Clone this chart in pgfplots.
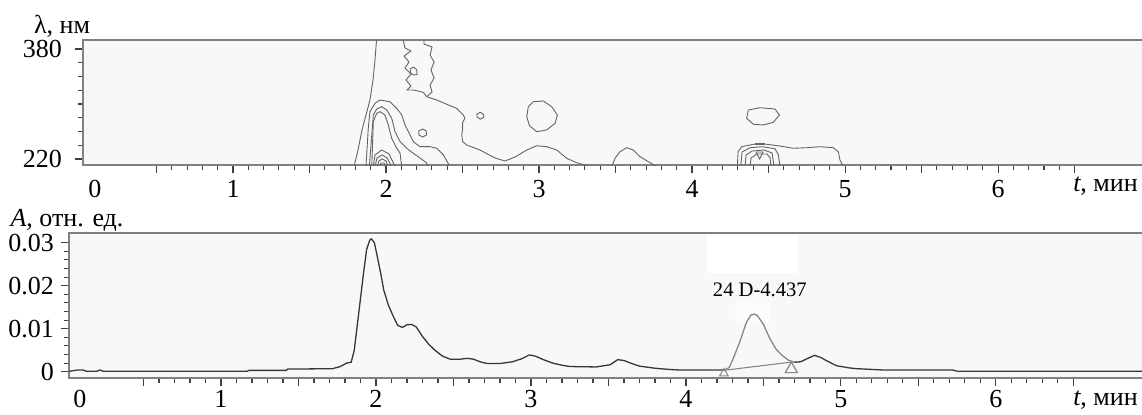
\documentclass[border=0pt]{standalone}
\usepackage{fontspec}
\setmainfont{Liberation Serif}
\usepackage{pgfplots}
\pgfplotsset{compat=1.18}
\definecolor{bgc}{RGB}{248,248,248}
\definecolor{framec}{RGB}{128,128,128}
\definecolor{curve}{RGB}{55,55,55}
\definecolor{cont}{RGB}{100,100,100}
\definecolor{pk}{RGB}{135,135,135}
\begin{document}
\begin{tikzpicture}
\useasboundingbox (0,0) rectangle (571pt,207pt);
\pgfplotsset{
  cl/.style={cont, line width=0.45pt, mark=none},
  every axis/.append style={
    scale only axis, clip=true,
    axis background/.style={fill=bgc},
    axis line style={framec, line width=0.7pt},
    tick style={black!75, line width=0.55pt},
    tick align=outside,
    major tick length=4pt, minor tick length=2.5pt,
    tick label style={font=\fontsize{13}{15}\selectfont},
    xtick={0.5,1,1.5,2,2.5,3,3.5,4,4.5,5,5.5,6,6.5},
    xticklabels={,1,,2,,3,,4,,5,,6,},
    minor x tick num=4,
    extra x tick style={tick style={draw=none}},
    xtick pos=bottom, ytick pos=left,
  }
}
% ---------- top: contour map ----------
\begin{axis}[at={(41.5pt,124.5pt)}, anchor=south west, width=533.5pt, height=62.5pt,
  xmin=0.0196, xmax=6.993, ymin=211.27, ymax=393.1,
  yticklabel style={xshift=-3pt},
  ytick={220,380}, yticklabels={220,380}, minor ytick={240,260,280,300,320,340,360},
  extra x ticks={0.098}, extra x tick labels={0}]
% outermost left line
\addplot[cl] coordinates {(1.939,396) (1.928,364.0) (1.915,334.9) (1.895,305.8) (1.869,284.0) (1.843,262.2) (1.817,233.1) (1.791,209)};
% long line from top going right
\addplot[cl] coordinates {(2.109,396) (2.124,381.5) (2.163,377.1) (2.118,369.8) (2.150,361.1) (2.124,352.4) (2.163,343.6) (2.131,334.9) (2.163,326.2) (2.137,320.4) (2.178,320.4) (2.244,317.0) (2.266,310.6) (2.331,305.8) (2.397,299.6) (2.462,293.7) (2.505,284.0) (2.516,279.2) (2.501,273.4) (2.501,264.7) (2.495,254.9) (2.501,245.2) (2.527,240.4) (2.614,233.1) (2.712,221.5) (2.778,217.1) (2.843,222.9) (2.920,233.1) (2.985,239.3) (3.050,237.9) (3.116,233.1) (3.181,221.0) (3.246,214.6) (3.333,209)};
% jagged right edge of the island
\addplot[cl] coordinates {(2.248,396) (2.248,387.3) (2.301,382.9) (2.288,371.3) (2.314,361.1) (2.294,349.5) (2.314,337.8) (2.288,327.6) (2.301,317.5) (2.266,310.6)};
% small loops
\addplot[cl] coordinates {(2.180,353.8) (2.200,350) (2.203,343) (2.180,342.2) (2.160,345) (2.158,351) (2.180,353.8)};
\addplot[cl] coordinates {(2.616,288.1) (2.637,285) (2.640,281) (2.616,277.9) (2.595,281) (2.594,285) (2.616,288.1)};
\addplot[cl] coordinates {(2.239,263.6) (2.262,261) (2.265,255) (2.239,252.0) (2.215,255) (2.214,261) (2.239,263.6)};
% main peak contours
\addplot[cl] coordinates {(1.869,209) (1.884,264.7) (1.895,288.8) (1.928,301.0) (1.961,305.8) (2.026,303.3) (2.070,293.7) (2.103,284.0) (2.124,269.5) (2.157,254.9) (2.178,245.2) (2.222,237.9) (2.288,237.9) (2.331,235.6) (2.375,225.8) (2.418,209)};
\addplot[cl] coordinates {(1.891,209) (1.907,254.9) (1.917,284.0) (1.939,292.7) (1.972,296.1) (2.005,291.3) (2.037,279.2) (2.059,259.7) (2.092,245.2) (2.135,235.6) (2.178,228.3) (2.222,221.5) (2.266,214.2) (2.275,209)};
\addplot[cl] coordinates {(1.907,209) (1.917,274.3) (1.939,286.5) (1.961,288.8) (1.993,284.0) (2.015,269.5) (2.037,250.1) (2.070,235.6) (2.092,228.3) (2.103,209)};
\addplot[cl] coordinates {(1.917,209) (1.928,225.8) (1.972,233.1) (2.020,227.3) (2.059,209)};
\addplot[cl] coordinates {(1.928,209) (1.941,221.5) (1.974,225.8) (2.007,221.5) (2.037,209)};
\addplot[cl] coordinates {(1.941,209) (1.954,217.1) (1.974,220) (2.000,217.1) (2.013,209)};
\addplot[cl] coordinates {(1.954,209) (1.967,214.2) (1.987,214.2) (2.000,209)};
% loop at t = 3
\addplot[cl] coordinates {(2.963,303.3) (3.028,304.4) (3.083,296.1) (3.120,284.0) (3.105,271.9) (3.050,262.2) (2.985,259.7) (2.937,268.5) (2.920,281.5) (2.930,296.1) (2.963,303.3)};
% bump at t = 3.55
\addplot[cl] coordinates {(3.475,209) (3.497,221.0) (3.529,230.6) (3.573,236.4) (3.616,233.1) (3.660,223.3) (3.714,216.1) (3.769,209)};
% loop at t = 4.45
\addplot[cl] coordinates {(4.368,291.3) (4.444,294.6) (4.542,292.7) (4.571,284.0) (4.531,273.4) (4.466,269.5) (4.401,270.5) (4.357,279.2) (4.368,291.3)};
% cluster 4.3-5.0
\addplot[cl] coordinates {(4.296,209) (4.301,230.6) (4.325,237.9) (4.401,241.4) (4.488,241.4) (4.575,238.9) (4.662,235.6) (4.749,236.4) (4.837,237.9) (4.924,236.4) (4.956,230.6) (4.967,218.5) (4.989,209)};
\addplot[cl] coordinates {(4.318,209) (4.327,230.2) (4.379,236.4) (4.458,237.9) (4.542,235.0) (4.564,226.2) (4.575,209)};
\addplot[cl] coordinates {(4.346,209) (4.353,225.8) (4.392,231.6) (4.471,233.1) (4.523,228.7) (4.536,209)};
\addplot[cl] coordinates {(4.379,209) (4.386,221.5) (4.425,227.3) (4.490,227.3) (4.510,221.5) (4.516,209)};
\addplot[cl] coordinates {(4.418,230.2) (4.464,230.2) (4.442,220) (4.418,230.2)};
\addplot[cont, line width=1.2pt] coordinates {(4.412,241.8) (4.477,241.8)};
\end{axis}
% ---------- bottom: chromatogram ----------
\begin{axis}[at={(34.5pt,18pt)}, anchor=south west, width=540.5pt, height=72.5pt,
  xmin=0.0194, xmax=6.994, ymin=-0.00147, ymax=0.03226,
  xticklabel style={yshift=1.2pt},
  ytick={0,0.01,0.02,0.03}, yticklabels={0,0.01,0.02,0.03}, minor y tick num=4,
  scaled y ticks=false,
  extra x ticks={0.09}, extra x tick labels={0}]
\fill[white] (axis cs:4.135,0.02295) rectangle (axis cs:4.723,0.0318);
\fill[white!60!bgc] (axis cs:4.316,0.0115) rectangle (axis cs:4.542,0.016);
\addplot[curve, line width=0.65pt] coordinates {
(0.02,0.0001) (0.08,0.0004) (0.11,0.0004) (0.13,0.0001) (0.20,0.0001) (0.22,0.0004) (0.24,0.0001)
(1.17,0.0001) (1.18,0.0003) (1.42,0.0003) (1.43,0.0006) (1.72,0.0007) (1.77,0.0012) (1.81,0.0020)
(1.84,0.0022) (1.86,0.0050) (1.88,0.0110) (1.90,0.0170) (1.92,0.0230) (1.94,0.0285) (1.96,0.0306)
(1.97,0.0309) (1.99,0.0300) (2.01,0.0265) (2.03,0.0230) (2.05,0.0190) (2.08,0.0155) (2.11,0.0130)
(2.14,0.0108) (2.17,0.0103) (2.20,0.0109) (2.23,0.0110) (2.26,0.0104) (2.30,0.0082) (2.34,0.0064)
(2.38,0.0050) (2.43,0.0036) (2.48,0.0029) (2.54,0.0029) (2.59,0.0031) (2.63,0.0029) (2.68,0.0022)
(2.72,0.0019) (2.80,0.0019) (2.88,0.0023) (2.94,0.0030) (2.99,0.0039) (3.03,0.0036) (3.08,0.0028)
(3.14,0.0020) (3.20,0.0015) (3.25,0.0012) (3.42,0.0011) (3.51,0.0016) (3.56,0.0028) (3.60,0.0026)
(3.65,0.0019) (3.70,0.0013) (3.80,0.0008) (3.90,0.0005) (3.96,0.0004) (4.25,0.0004)};
\addplot[pk, line width=0.65pt] coordinates {
(4.25,0.0004) (4.28,0.0010) (4.31,0.0035) (4.35,0.0072) (4.39,0.0115) (4.42,0.0132) (4.44,0.0134)
(4.46,0.0131) (4.50,0.0110) (4.54,0.0078) (4.58,0.0053) (4.62,0.0038) (4.66,0.0027) (4.70,0.0022)};
\addplot[curve, line width=0.65pt] coordinates {
(4.70,0.0022) (4.74,0.0023) (4.78,0.0030) (4.83,0.0038) (4.87,0.0033) (4.91,0.0025) (4.97,0.0014)
(5.05,0.0009) (5.10,0.0007) (5.27,0.0004) (5.72,0.0004) (5.75,0.0001) (6.99,0.0001)};
\addplot[pk, line width=0.55pt] coordinates {(4.24,0.0003) (4.72,0.0024)};
\addplot[pk, only marks, mark=triangle, mark size=3.5pt, mark options={line width=0.6pt}] coordinates {(4.68,0.0006)};
\addplot[pk, only marks, mark=triangle, mark size=2.5pt, mark options={line width=0.5pt}] coordinates {(4.245,-0.0004)};
\node[font=\fontsize{10.3}{12}\selectfont] at (axis cs:4.477,0.0190) {24 D-4.437};
\end{axis}
% ---------- axis titles ----------
\node[font=\fontsize{13}{15}\selectfont] at (31pt,194pt) {λ, нм};
\node[font=\fontsize{13}{15}\selectfont] at (33.5pt,97pt) {\textit{A}, отн. ед.};
\node[font=\fontsize{13}{15}\selectfont] at (552.75pt,114pt) {\textit{t}, мин};
\node[font=\fontsize{13}{15}\selectfont] at (552.75pt,7pt) {\textit{t}, мин};
\end{tikzpicture}
\end{document}
